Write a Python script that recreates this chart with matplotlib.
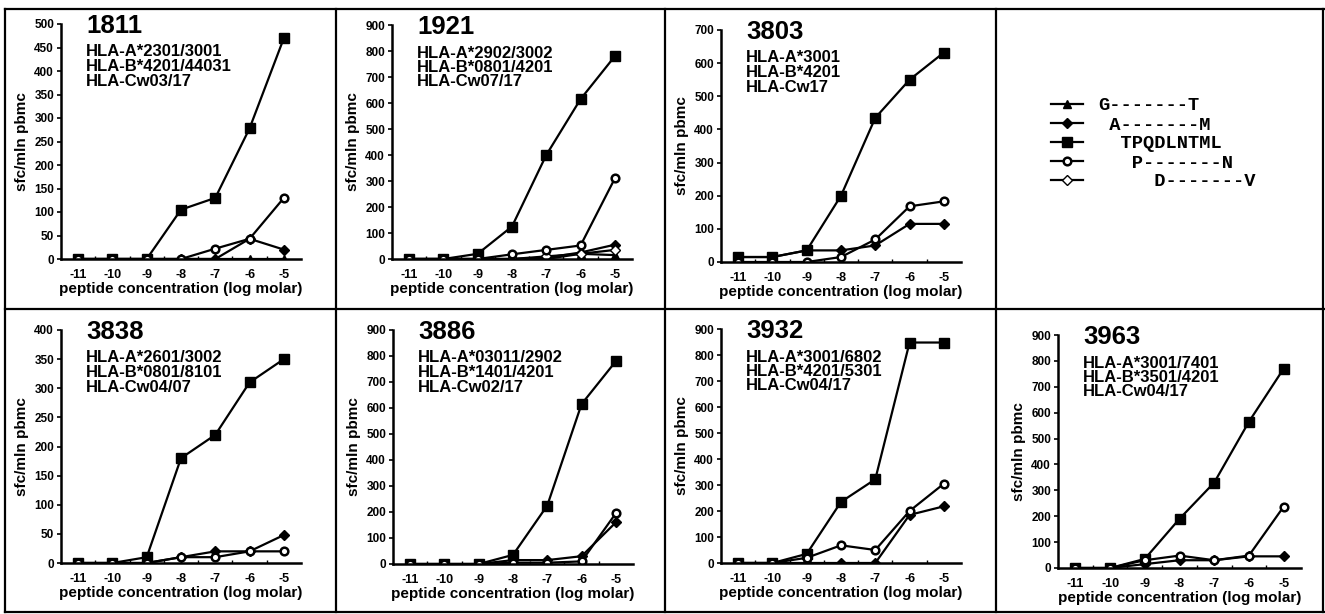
import numpy as np
import matplotlib
matplotlib.use("Agg")
import matplotlib.pyplot as plt
from matplotlib.lines import Line2D

plt.rcParams['font.family'] = ['Liberation Sans', 'DejaVu Sans']
plt.rcParams['font.weight'] = 'bold'
plt.rcParams['axes.unicode_minus'] = False

W, H = 1325, 614

conc = [-11, -10, -9, -8, -7, -6, -5]

donors = ['1811', '1921', '3803', '3838', '3886', '3932', '3963']
hla = [
    ['HLA-A*2301/3001', 'HLA-B*4201/44031', 'HLA-Cw03/17'],
    ['HLA-A*2902/3002', 'HLA-B*0801/4201', 'HLA-Cw07/17'],
    ['HLA-A*3001', 'HLA-B*4201', 'HLA-Cw17'],
    ['HLA-A*2601/3002', 'HLA-B*0801/8101', 'HLA-Cw04/07'],
    ['HLA-A*03011/2902', 'HLA-B*1401/4201', 'HLA-Cw02/17'],
    ['HLA-A*3001/6802', 'HLA-B*4201/5301', 'HLA-Cw04/17'],
    ['HLA-A*3001/7401', 'HLA-B*3501/4201', 'HLA-Cw04/17'],
]
ymax = [500, 900, 700, 400, 900, 900, 900]
ystep = [50, 100, 100, 50, 100, 100, 100]

# peptide names, same order as the series below
peptides = ['G-------T', ' A-------M', '  TPQDLNTML', '     D-------V', '   P-------N']

# sfc / mln pbmc per donor, one list per peptide (None = not shown)
g_t = [[0, 0, 0, 0, 0, 0, 0], [0, 0, 0, 0, 0, 20, 15], None, None, None, None, None]
a_m = [[0, 0, 0, 0, 0, 43, 20], [0, 0, 0, 0, 5, 25, 55], [15, 15, 35, 35, 50, 115, 115],
       [0, 0, 0, 10, 20, 20, 48], [0, 0, 0, 15, 15, 30, 160], [0, 0, 0, 0, 0, 185, 218],
       [0, 0, 15, 30, 30, 45, 45]]
tpq = [[0, 0, 0, 105, 130, 278, 470], [0, 0, 20, 125, 400, 615, 780], [15, 15, 35, 200, 435, 550, 632],
       [0, 0, 10, 180, 220, 310, 350], [0, 0, 0, 35, 225, 615, 780], [0, 0, 35, 235, 322, 848, 848],
       [0, 0, 35, 190, 330, 565, 770]]
d_v = [None, [0, 0, 0, 0, 10, 20, 35], None, None, None, None, None]
p_n = [[0, 0, 0, 0, 22, 43, 130], [0, 0, 0, 18, 35, 52, 310], [0, 0, 0, 15, 68, 168, 183],
       [0, 0, 0, 10, 10, 20, 20], [0, 0, 0, 5, 5, 10, 195], [0, 0, 20, 68, 50, 200, 305],
       [0, 0, 30, 48, 30, 48, 237]]

series = [
    (g_t, dict(marker='^', ms=6, mfc='black')),
    (a_m, dict(marker='D', ms=5, mfc='black')),
    (tpq, dict(marker='s', ms=6.5, mfc='black')),
    (d_v, dict(marker='D', ms=5.5, mfc='white')),
    (p_n, dict(marker='o', ms=5.5, mfc='white', mew=1.8)),
]
legend_order = [0, 1, 2, 4, 3]

# axes boxes in pixels: left, top, bottom, width
boxes = [(61, 24, 259, 240), (392, 25, 259, 240), (721, 30, 262, 240),
         (61, 330, 563, 240), (393, 330, 564, 240), (721, 329, 563, 240), (1058, 335, 568, 243)]

fig = plt.figure(figsize=(W / 100, H / 100), dpi=100)


def fx(px):
    return px / W


def fy(py):
    return 1 - py / H


handles = {}
for i, (left, top, bottom, width) in enumerate(boxes):
    ax = fig.add_axes([fx(left), fy(bottom), width / W, (bottom - top) / H])
    for k, (data, style) in enumerate(series):
        if data[i] is None:
            continue
        ln, = ax.plot(conc, data[i], color='black', lw=1.6, mec='black', **style)
        handles.setdefault(k, ln)
    ax.set_xlim(-11.5, -4.5)
    ax.set_ylim(0, ymax[i])
    ax.set_yticks(np.arange(0, ymax[i] + 1, ystep[i]))
    ax.set_xticks(conc)
    ax.set_xticks(np.arange(-10.5, -4.9, 1), minor=True)
    for s in ['top', 'right']:
        ax.spines[s].set_visible(False)
    for s in ['left', 'bottom']:
        ax.spines[s].set_linewidth(1.8)
    ax.tick_params(axis='x', which='major', length=0, pad=7, labelsize=9)
    ax.tick_params(axis='x', which='minor', length=2, direction='in', width=1)
    ax.tick_params(axis='y', length=3, width=1.2, pad=2, labelsize=8.5)
    for lab in ax.get_xticklabels() + ax.get_yticklabels():
        lab.set_fontweight('bold')
    ax.set_xlabel('peptide concentration (log molar)', fontsize=11, fontweight='bold', labelpad=1)
    ax.set_ylabel('sfc/mln pbmc', fontsize=11, fontweight='bold', labelpad=4)
    fig.text(fx(left + 25), fy(top + 2), donors[i], fontsize=18.5, fontweight='bold', va='center')
    for j, line in enumerate(hla[i]):
        fig.text(fx(left + 25), fy(top + 28 + 14.5 * j), line, fontsize=12,
                 fontweight='bold', va='center')

fig.legend([handles[k] for k in legend_order], [peptides[k] for k in legend_order],
           loc='upper left', bbox_to_anchor=(fx(1042), fy(88)), frameon=False,
           prop={'family': 'Liberation Mono', 'weight': 'bold', 'size': 13.5},
           handlelength=1.7, handletextpad=0.8, labelspacing=0.1, borderpad=0)

# panel frame
lw = 1.6
for y in [9, 309, 612]:
    fig.add_artist(Line2D([fx(5), fx(1324)], [fy(y), fy(y)], color='black', lw=lw))
for x in [5, 336, 665, 996, 1323]:
    fig.add_artist(Line2D([fx(x), fx(x)], [fy(9), fy(612)], color='black', lw=lw))

fig.savefig('out.png', dpi=100)
